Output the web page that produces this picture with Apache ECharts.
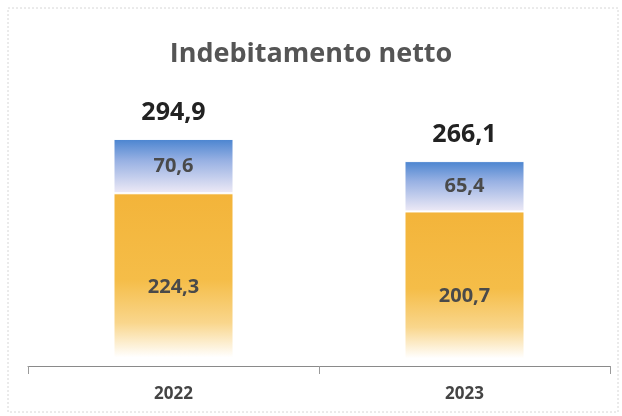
<!DOCTYPE html>
<html>
<head>
<meta charset="utf-8">
<script src="https://cdn.jsdelivr.net/npm/echarts@6/dist/echarts.min.js"></script>
<style>
  html, body { margin: 0; padding: 0; background: #fff; }
  #chart { width: 622px; height: 416px; }
</style>
</head>
<body>
<div id="chart"></div>
<script>
var anni = ['2022', '2023'];
var quotaBase = [224.3, 200.7];   // parte arancio
var quotaAlta = [70.6, 65.4];     // parte blu
var totali = [294.9, 266.1];

function virgola(v) {
  return v.toFixed(1).replace('.', ',');
}

var myChart = echarts.init(document.getElementById('chart'));

var option = {
  backgroundColor: '#fff',
  title: {
    text: 'Indebitamento netto',
    left: 'center',
    top: 36,
    textStyle: {
      fontFamily: 'Open Sans',
      fontSize: 27,
      fontWeight: 'bold',
      color: '#555'
    }
  },
  graphic: [
    {
      type: 'rect',
      shape: { x: 8, y: 8, width: 610, height: 404 },
      style: { fill: 'none', stroke: '#d6d6d6', lineWidth: 1, lineDash: [2, 2] },
      silent: true
    }
  ],
  grid: {
    left: 28,
    right: 12,
    top: 135,
    bottom: 50
  },
  xAxis: {
    type: 'category',
    data: anni,
    axisLine: { lineStyle: { color: '#8a8a8a', width: 1 } },
    axisTick: { show: true, alignWithLabel: false, length: 8, lineStyle: { color: '#9a9a9a' } },
    axisLabel: {
      margin: 20,
      fontFamily: 'Open Sans',
      fontSize: 17,
      fontWeight: 'bold',
      color: '#444'
    }
  },
  yAxis: {
    type: 'value',
    min: 0,
    max: 300,
    show: false,
    splitLine: { show: false }
  },
  series: [
    {
      name: 'base',
      type: 'bar',
      stack: 'tot',
      barWidth: 120,
      data: quotaBase,
      itemStyle: {
        borderColor: '#fff',
        borderWidth: 1,
        color: new echarts.graphic.LinearGradient(0, 0, 0, 1, [
          { offset: 0, color: '#f3b43a' },
          { offset: 0.5, color: '#f5bd48' },
          { offset: 0.75, color: '#f9d68c' },
          { offset: 0.95, color: '#ffffff' },
          { offset: 1, color: '#ffffff' }
        ])
      },
      label: {
        show: true,
        position: 'inside',
        offset: [0, 8],
        formatter: function (p) { return virgola(p.value); },
        fontFamily: 'Open Sans',
        fontSize: 20,
        fontWeight: 'bold',
        color: '#4a4a4a'
      }
    },
    {
      name: 'alta',
      type: 'bar',
      stack: 'tot',
      barWidth: 120,
      data: quotaAlta,
      itemStyle: {
        borderColor: '#fff',
        borderWidth: 1,
        color: new echarts.graphic.LinearGradient(0, 0, 0, 1, [
          { offset: 0, color: '#4a84d0' },
          { offset: 0.4, color: '#98b1e3' },
          { offset: 1, color: '#eeeaf6' }
        ])
      },
      label: {
        show: true,
        position: 'inside',
        formatter: function (p) { return virgola(p.value); },
        fontFamily: 'Open Sans',
        fontSize: 20,
        fontWeight: 'bold',
        color: '#4a4a4a'
      }
    },
    {
      name: 'totale',
      type: 'bar',
      stack: 'tot',
      barWidth: 120,
      data: [0, 0],
      itemStyle: { color: 'transparent' },
      label: {
        show: true,
        position: 'top',
        distance: 14,
        formatter: function (p) { return virgola(totali[p.dataIndex]); },
        fontFamily: 'Open Sans',
        fontSize: 25,
        fontWeight: 'bold',
        color: '#222'
      }
    }
  ]
};

myChart.setOption(option);
window.addEventListener('resize', function () {
  myChart.resize();
});
</script>
</body>
</html>
